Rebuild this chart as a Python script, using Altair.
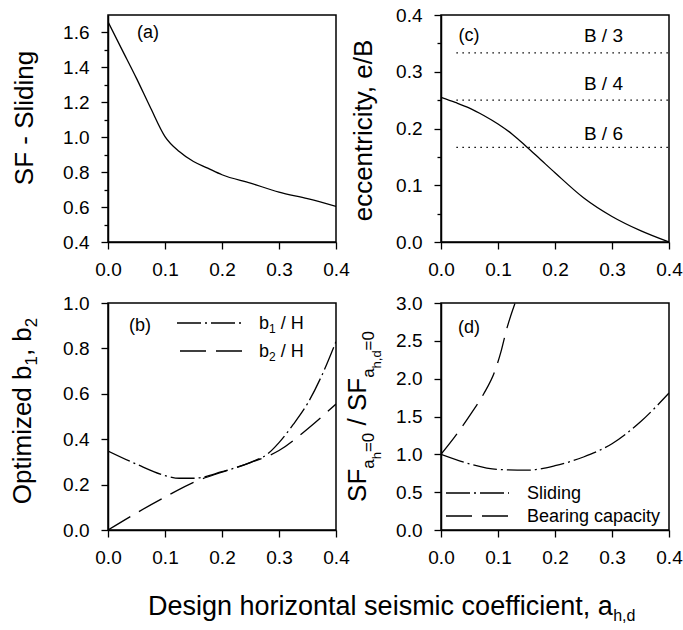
import altair as alt
import pandas as pd

# ---------------- data ----------------
x_ticks = [0.0, 0.1, 0.2, 0.3, 0.4]

# (a) safety factor against sliding
a_x = [0.0, 0.025, 0.05, 0.075, 0.1, 0.125, 0.15, 0.175, 0.2, 0.25, 0.3, 0.35, 0.4]
a_sf = [1.661, 1.499, 1.337, 1.166, 1.004, 0.918, 0.861, 0.823, 0.785, 0.737, 0.686, 0.648, 0.604]
a_major = [0.4, 0.6, 0.8, 1.0, 1.2, 1.4, 1.6]
a_minor = [0.5, 0.7, 0.9, 1.1, 1.3, 1.5]

# (c) eccentricity of the resultant
c_x = [0.0, 0.025, 0.05, 0.075, 0.1, 0.125, 0.15, 0.175, 0.2, 0.25, 0.3, 0.35, 0.4]
c_e = [0.255, 0.246, 0.236, 0.223, 0.208, 0.19, 0.168, 0.145, 0.122, 0.078, 0.045, 0.02, 0.0]
c_major = [0.0, 0.1, 0.2, 0.3, 0.4]
c_minor = [0.05, 0.15, 0.25, 0.35]
c_limits = [1 / 3, 1 / 4, 1 / 6]
c_limit_start = 0.027
c_limit_labels = ["B / 3", "B / 4", "B / 6"]
c_label_x = 0.285
c_label_y = [0.363, 0.278, 0.19]

# (b) optimized dimensions
b1_x = [0.0, 0.05, 0.1, 0.125, 0.15, 0.2, 0.25, 0.28, 0.3, 0.325, 0.35, 0.375, 0.4]
b1_v = [0.348, 0.29, 0.24, 0.228, 0.228, 0.257, 0.298, 0.335, 0.385, 0.465, 0.557, 0.68, 0.83]
b2_x = [0.0, 0.05, 0.1, 0.15, 0.2, 0.25, 0.3, 0.35, 0.4]
b2_v = [0.0, 0.075, 0.145, 0.21, 0.255, 0.297, 0.35, 0.445, 0.555]
b_major = [0.0, 0.2, 0.4, 0.6, 0.8, 1.0]

# (d) normalised safety factors
d_sl_x = [0.0, 0.05, 0.1, 0.15, 0.2, 0.25, 0.3, 0.35, 0.4]
d_sl_v = [1.0, 0.875, 0.80, 0.79, 0.85, 0.965, 1.14, 1.43, 1.81]
d_bc_x = [0.0, 0.025, 0.053, 0.075, 0.094, 0.105, 0.115, 0.13]
d_bc_v = [1.0, 1.24, 1.54, 1.8, 2.09, 2.35, 2.65, 3.0]
d_major = [0.0, 0.5, 1.0, 1.5, 2.0, 2.5, 3.0]

# ---------------- styling ----------------
FONT = "Liberation Sans"
W, H = 228, 227
TICK_FS = 19
TITLE_FS = 26
LEG_FS = 18
LW = 1.3
DASHDOT = [24, 4, 2, 4]
DASHED = [26, 10]
DOTTED = [1.5, 4.5]

# Liberation Sans advance widths (em) used to chain text pieces
ADV = {
    'A': .667, 'B': .667, 'D': .722, 'F': .611, 'H': .722, 'O': .778, 'S': .667,
    'a': .556, 'b': .556, 'c': .5, 'd': .556, 'e': .556, 'f': .278, 'g': .556,
    'h': .556, 'i': .222, 'l': .222, 'm': .833, 'n': .556, 'o': .556, 'p': .556,
    'r': .333, 's': .5, 't': .278, 'y': .5, 'z': .5,
    ' ': .278, ',': .278, '/': .278, '=': .584, '.': .278,
    '0': .556, '1': .556, '2': .556, '3': .556, '4': .556, '6': .556,
}


def text_width(s, size):
    return sum(ADV.get(ch, .556) for ch in s) * size


x_scale = alt.Scale(domain=[0, 0.4], nice=False, zero=False)


def x_axis():
    return alt.Axis(values=x_ticks, format=".1f", title=None, tickSize=7, tickWidth=1.3,
                    tickColor="black", domainColor="black", domainWidth=1.5,
                    labelFont=FONT, labelFontSize=TICK_FS, labelColor="black",
                    labelPadding=11, labelFlush=False, labelOverlap=False, grid=False)


def y_axis(values):
    return alt.Axis(values=values, format=".1f", title=None, tickSize=7, tickWidth=1.3,
                    tickColor="black", domainColor="black", domainWidth=1.5,
                    labelFont=FONT, labelFontSize=TICK_FS, labelColor="black",
                    labelPadding=12, labelFlush=False, labelOverlap=False, grid=False,
                    orient="left")


def y_scale(dom):
    return alt.Scale(domain=dom, nice=False, zero=False)


def curve(xs, ys, dom, yvals, dash=None):
    df = pd.DataFrame({"x": xs, "y": ys})
    kw = dict(color="black", strokeWidth=LW, interpolate="monotone", clip=True)
    if dash:
        kw["strokeDash"] = dash
    return alt.Chart(df).mark_line(**kw).encode(
        x=alt.X("x:Q", scale=x_scale, axis=x_axis()),
        y=alt.Y("y:Q", scale=y_scale(dom), axis=y_axis(yvals)),
    )


def minor_ticks(vals, dom):
    return alt.Chart(pd.DataFrame({"m": vals})).mark_point(opacity=0).encode(
        y=alt.Y("m:Q", scale=y_scale(dom),
                axis=alt.Axis(values=vals, orient="left", labels=False, domain=False,
                              grid=False, tickSize=4, tickWidth=1.3, tickColor="black",
                              title=None)))


def txt(s, px, py, size, angle=0, align="left", baseline="alphabetic"):
    kw = dict(font=FONT, fontSize=size, color="black", align=align, baseline=baseline)
    if angle:
        kw["angle"] = angle
    return alt.Chart(pd.DataFrame({"t": [s]})).mark_text(**kw).encode(
        text="t:N", x=alt.value(px), y=alt.value(py))


def rotated_title(pieces, x_base, y_center, size, shifts):
    # pieces run bottom-to-top; level 0 = normal, 1 = subscript, 2 = sub-subscript
    scale = {0: 1.0, 1: 0.65, 2: 0.5}
    total = sum(text_width(s, size * scale[lvl]) for s, lvl in pieces)
    out, y = [], y_center + total / 2
    for s, lvl in pieces:
        fs = size * scale[lvl]
        lead = len(s) - len(s.lstrip(" "))
        y -= text_width(" " * lead, fs)
        out.append(txt(s.lstrip(" "), x_base + shifts[lvl], y, fs, angle=270))
        y -= text_width(s.lstrip(" "), fs)
    return out


def sub_label(main, sub, rest, px, py, size, sub_size):
    # e.g. b with subscript 1 followed by " / H"
    x1 = px + text_width(main, size)
    x2 = x1 + text_width(sub, sub_size) + text_width(" ", size)
    return [txt(main, px, py, size), txt(sub, x1, py + 4, sub_size), txt(rest, x2, py, size)]


def sample(x1, x2, y, dash):
    return alt.Chart(pd.DataFrame({"k": [0]})).mark_rule(
        color="black", strokeWidth=LW, strokeDash=dash).encode(
        x=alt.value(x1), x2=alt.value(x2), y=alt.value(y))


# ---------------- (a) ----------------
a_dom = [0.4, 1.7]
anchor = alt.Chart(pd.DataFrame({"k": [0]})).mark_rule(opacity=0).encode(
    x=alt.value(-107), x2=alt.value(-107), y=alt.value(-14), y2=alt.value(-14))
panel_a = alt.layer(
    alt.layer(
        curve(a_x, a_sf, a_dom, a_major),
        txt("(a)", 40, 18, 18, align="center", baseline="middle"),
        txt("SF - Sliding", -75, 103, TITLE_FS, angle=270, align="center"),
        anchor,
    ),
    minor_ticks(a_minor, a_dom),
).resolve_scale(y="independent").properties(width=W, height=H)

# ---------------- (c) ----------------
c_dom = [0.0, 0.4]
limits = pd.DataFrame({"x0": [c_limit_start] * 3, "x1": [0.4] * 3, "y": c_limits})
limit_lines = alt.Chart(limits).mark_rule(color="black", strokeWidth=LW, strokeDash=DOTTED).encode(
    x=alt.X("x0:Q", scale=x_scale, axis=x_axis()), x2="x1:Q",
    y=alt.Y("y:Q", scale=y_scale(c_dom), axis=y_axis(c_major)))
limit_text = alt.Chart(pd.DataFrame({"t": c_limit_labels, "x": [c_label_x] * 3, "y": c_label_y})).mark_text(
    font=FONT, fontSize=19, color="black", align="center", baseline="middle").encode(
    text="t:N", x=alt.X("x:Q", scale=x_scale, axis=x_axis()),
    y=alt.Y("y:Q", scale=y_scale(c_dom), axis=y_axis(c_major)))
panel_c = alt.layer(
    alt.layer(
        curve(c_x, c_e, c_dom, c_major),
        limit_lines,
        limit_text,
        txt("(c)", 28, 21, 18, align="center", baseline="middle"),
        txt("eccentricity, e/B", -69, 115.5, TITLE_FS, angle=270, align="center"),
    ),
    minor_ticks(c_minor, c_dom),
).resolve_scale(y="independent").properties(width=W, height=H)

# ---------------- (b) ----------------
b_dom = [0.0, 1.0]
b_title = rotated_title([("Optimized b", 0), ("1", 1), (", b", 0), ("2", 1)],
                        -77, 108, TITLE_FS, {0: 0, 1: 6, 2: 12})
b_leg = [
    sample(69, 133, 20, DASHDOT),
    sample(72, 134, 48, DASHED),
    *sub_label("b", "1", "/ H", 151, 26, LEG_FS, 12),
    *sub_label("b", "2", "/ H", 151, 54, LEG_FS, 12),
]
x_title_main = "Design horizontal seismic coefficient, a"
panel_b = alt.layer(
    curve(b1_x, b1_v, b_dom, b_major, dash=DASHDOT),
    curve(b2_x, b2_v, b_dom, b_major, dash=DASHED),
    txt("(b)", 32, 23, 18, align="center", baseline="middle"),
    *b_leg,
    *b_title,
    txt(x_title_main, 40, 312, 27),
    txt("h,d", 40 + text_width(x_title_main, 27), 318, 16),
).properties(width=W, height=H)

# ---------------- (d) ----------------
d_dom = [0.0, 3.0]
d_title = rotated_title([("SF", 0), ("a", 1), ("h", 2), ("=0", 1),
                         (" / SF", 0), ("a", 1), ("h,d", 2), ("=0", 1)],
                        -75, 113.5, TITLE_FS, {0: 0, 1: 8, 2: 15})
panel_d = alt.layer(
    curve(d_sl_x, d_sl_v, d_dom, d_major, dash=DASHDOT),
    curve(d_bc_x, d_bc_v, d_dom, d_major, dash=DASHED),
    txt("(d)", 28, 25, 18, align="center", baseline="middle"),
    sample(5, 68, 190, DASHDOT),
    sample(5, 68, 213, DASHED),
    txt("Sliding", 86, 196, LEG_FS),
    txt("Bearing capacity", 86, 219, LEG_FS),
    *d_title,
).properties(width=W, height=H)

chart = alt.ConcatChart(
    concat=[panel_a, panel_c, panel_b, panel_d],
    columns=2,
    spacing={"row": 61, "column": 105},
    bounds="flush",
).properties(padding=0, background="white").configure_view(
    stroke="black", strokeWidth=1.5)

chart.save("out.html", embed_options={"renderer": "svg", "actions": False})
